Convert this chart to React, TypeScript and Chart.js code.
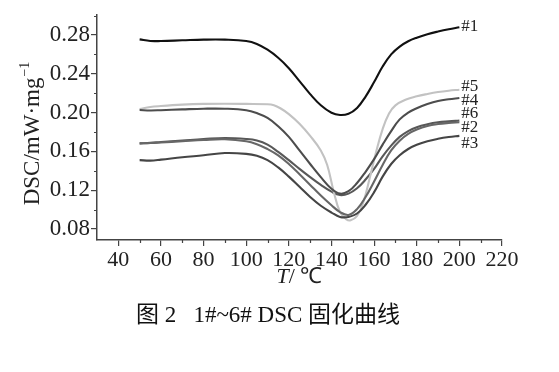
import React, { useEffect, useRef } from 'react';
import { Chart, registerables } from 'chart.js';

Chart.register(...registerables);

// Temperatures (°C) shared by curves #1, #2, #3, #4, #6
const temps = [50, 55, 60, 70, 80, 90, 100, 105, 110, 115, 120, 125, 130, 135, 140, 144, 148, 152, 156, 160, 164, 168, 172, 176, 180, 185, 190, 195, 200];

const dsc1 = [0.2755, 0.2738, 0.2738, 0.2745, 0.2752, 0.2752, 0.2738, 0.2708, 0.2648, 0.2565, 0.2458, 0.2325, 0.219, 0.2075, 0.1998, 0.1975, 0.1988, 0.2048, 0.2165, 0.2315, 0.2475, 0.26, 0.268, 0.2735, 0.2772, 0.2808, 0.2836, 0.286, 0.288];
const dsc2 = [0.1683, 0.1686, 0.1692, 0.1705, 0.1718, 0.1725, 0.1705, 0.1675, 0.1625, 0.156, 0.147, 0.1365, 0.1255, 0.1145, 0.1045, 0.0975, 0.0945, 0.1005, 0.113, 0.129, 0.146, 0.161, 0.171, 0.178, 0.1825, 0.1862, 0.1882, 0.1893, 0.19];
const dsc3 = [0.151, 0.1505, 0.1515, 0.154, 0.156, 0.1583, 0.1575, 0.1555, 0.151, 0.1435, 0.134, 0.1235, 0.113, 0.104, 0.097, 0.0925, 0.0925, 0.096, 0.105, 0.118, 0.134, 0.147, 0.156, 0.1625, 0.1668, 0.1705, 0.173, 0.1748, 0.176];
const dsc4 = [0.2027, 0.2022, 0.2025, 0.2033, 0.204, 0.204, 0.2025, 0.1995, 0.1945, 0.186, 0.175, 0.161, 0.147, 0.1335, 0.1215, 0.1165, 0.119, 0.1275, 0.139, 0.152, 0.167, 0.181, 0.193, 0.2, 0.2045, 0.2088, 0.212, 0.2138, 0.215];
const dsc6 = [0.1683, 0.1688, 0.1697, 0.1712, 0.1727, 0.1738, 0.1728, 0.1712, 0.167, 0.1595, 0.151, 0.142, 0.1335, 0.1255, 0.1185, 0.115, 0.1165, 0.122, 0.131, 0.142, 0.155, 0.166, 0.175, 0.181, 0.185, 0.188, 0.19, 0.191, 0.1918];

// Curve #5 has its own, denser temperature grid around its sharp peak
const temps5 = [50, 55, 60, 70, 80, 90, 100, 110, 113, 116, 120, 125, 130, 135, 138, 141, 144, 147, 149, 152, 155, 158, 161, 164, 167, 170, 175, 180, 185, 190, 195, 200];
const dsc5 = [0.2037, 0.2058, 0.2068, 0.2082, 0.209, 0.2092, 0.209, 0.2086, 0.2076, 0.2045, 0.1985, 0.1885, 0.176, 0.161, 0.146, 0.119, 0.0975, 0.09, 0.089, 0.0935, 0.108, 0.133, 0.16, 0.183, 0.199, 0.2075, 0.2135, 0.2168, 0.2192, 0.2212, 0.2226, 0.2236];

const seriesNames = ['#1', '#2', '#3', '#4', '#5', '#6'];
const xTickValues = [40, 60, 80, 100, 120, 140, 160, 180, 200, 220];
const xMinorValues = [50, 70, 90, 110, 130, 150, 170, 190, 210];
const yTickValues = [0.08, 0.12, 0.16, 0.2, 0.24, 0.28];
const yMinorValues = [0.1, 0.14, 0.18, 0.22, 0.26, 0.3];
const yTitle = 'DSC/mW·mg';
const ySup = '−1';
const caption = '图 2   1#~6# DSC 固化曲线';

// styles
const colors = ['#111111', '#676767', '#454545', '#4d4d4d', '#c2c2c2', '#585858'];
const labelOffsets = [-1, 5, 8, 2, -3, -7];
const SERIF = '"Liberation Serif", "Times New Roman", serif';
const CJK = '"Liberation Serif", "Noto Sans CJK SC", serif';

const toPoints = (xs: number[], ys: number[]) => xs.map((x, i) => ({ x, y: ys[i] }));

const decorPlugin = {
  id: 'decor',
  afterDraw(chart: any) {
    const { ctx, chartArea, scales } = chart;
    const xs = scales.x;
    const ys = scales.y;
    ctx.save();
    // minor ticks
    ctx.strokeStyle = '#444';
    ctx.lineWidth = 1.2;
    ctx.beginPath();
    xMinorValues.forEach((v) => {
      const px = Math.round(xs.getPixelForValue(v)) + 0.5;
      ctx.moveTo(px, chartArea.bottom);
      ctx.lineTo(px, chartArea.bottom + 3);
    });
    yMinorValues.forEach((v) => {
      const py = Math.round(ys.getPixelForValue(v)) + 0.5;
      ctx.moveTo(chartArea.left, py);
      ctx.lineTo(chartArea.left - 3, py);
    });
    ctx.stroke();

    // series labels at the curve ends
    ctx.fillStyle = '#222';
    ctx.font = `17px ${SERIF}`;
    ctx.textAlign = 'left';
    ctx.textBaseline = 'middle';
    chart.data.datasets.forEach((ds: any, i: number) => {
      const meta = chart.getDatasetMeta(i);
      const last = meta.data[meta.data.length - 1];
      if (!last) return;
      ctx.fillText(seriesNames[i], last.x + 2, last.y + labelOffsets[i]);
    });

    // y-axis title (rotated)
    ctx.save();
    ctx.translate(33, 134);
    ctx.rotate(-Math.PI / 2);
    ctx.font = `23px ${SERIF}`;
    const w = ctx.measureText(yTitle).width;
    ctx.font = `14px ${SERIF}`;
    const ws = ctx.measureText(ySup).width;
    const start = -(w + ws) / 2;
    ctx.font = `23px ${SERIF}`;
    ctx.fillText(yTitle, start, 0);
    ctx.font = `14px ${SERIF}`;
    ctx.fillText(ySup, start + w + 1, -8);
    ctx.restore();

    // x-axis title: italic T + "/℃"
    ctx.font = `italic 22px ${SERIF}`;
    const tW = ctx.measureText('T').width;
    ctx.font = `22px ${SERIF}`;
    const rest = '/ ℃';
    const rW = ctx.measureText(rest).width;
    const cx = (chartArea.left + chartArea.right) / 2;
    const x0 = cx - (tW + rW) / 2;
    ctx.textBaseline = 'middle';
    ctx.font = `italic 22px ${SERIF}`;
    ctx.fillText('T', x0, 277);
    ctx.font = `22px ${SERIF}`;
    ctx.fillText(rest, x0 + tW, 277);

    // caption
    ctx.font = `23px ${CJK}`;
    ctx.textAlign = 'center';
    ctx.fillStyle = '#111';
    ctx.fillText(caption, 268, 316);
    ctx.restore();
  },
};

export default function App() {
  const ref = useRef<HTMLCanvasElement | null>(null);

  useEffect(() => {
    if (!ref.current) return;
    const allSeries = [
      toPoints(temps, dsc1),
      toPoints(temps, dsc2),
      toPoints(temps, dsc3),
      toPoints(temps, dsc4),
      toPoints(temps5, dsc5),
      toPoints(temps, dsc6),
    ];
    const chart = new Chart(ref.current, {
      type: 'line',
      data: {
        datasets: allSeries.map((pts, i) => ({
          label: seriesNames[i],
          data: pts,
          borderColor: colors[i],
          backgroundColor: colors[i],
          borderWidth: 2.1,
          pointRadius: 0,
          fill: false,
          tension: 0.4,
        })),
      },
      options: {
        responsive: false,
        animation: false,
        devicePixelRatio: 1,
        layout: { padding: { left: 0, right: 57, top: 15, bottom: 0 } },
        plugins: {
          legend: { display: false },
          tooltip: { enabled: false },
          title: { display: false },
        },
        scales: {
          x: {
            type: 'linear',
            min: 30,
            max: 220,
            afterBuildTicks: (s: any) => {
              s.ticks = xTickValues.map((v) => ({ value: v }));
            },
            afterFit: (s: any) => {
              s.height = 132;
            },
            ticks: {
              autoSkip: false,
              maxRotation: 0,
              padding: 1,
              color: '#222',
              font: { family: SERIF, size: 22 },
              callback: (v: any) => String(v),
            },
            grid: {
              display: true,
              drawOnChartArea: false,
              drawTicks: true,
              tickLength: 6,
              color: '#444',
              lineWidth: 1.2,
            },
            border: { display: true, color: '#444', width: 1.5 },
          },
          y: {
            type: 'linear',
            min: 0.0687,
            max: 0.3006,
            afterBuildTicks: (s: any) => {
              s.ticks = yTickValues.map((v) => ({ value: v }));
            },
            afterFit: (s: any) => {
              s.width = 97;
            },
            ticks: {
              autoSkip: false,
              padding: 1,
              color: '#222',
              font: { family: SERIF, size: 23 },
              callback: (v: any) => Number(v).toFixed(2),
            },
            grid: {
              display: true,
              drawOnChartArea: false,
              drawTicks: true,
              tickLength: 6,
              color: '#444',
              lineWidth: 1.2,
            },
            border: { display: true, color: '#444', width: 1.5 },
          },
        },
      },
      plugins: [decorPlugin],
    });
    return () => chart.destroy();
  }, []);

  return (
    <div style={{ position: 'fixed', left: 0, top: 0, width: 559, height: 372, background: '#fff' }}>
      <canvas ref={ref} width={559} height={372} style={{ display: 'block' }} />
    </div>
  );
}
